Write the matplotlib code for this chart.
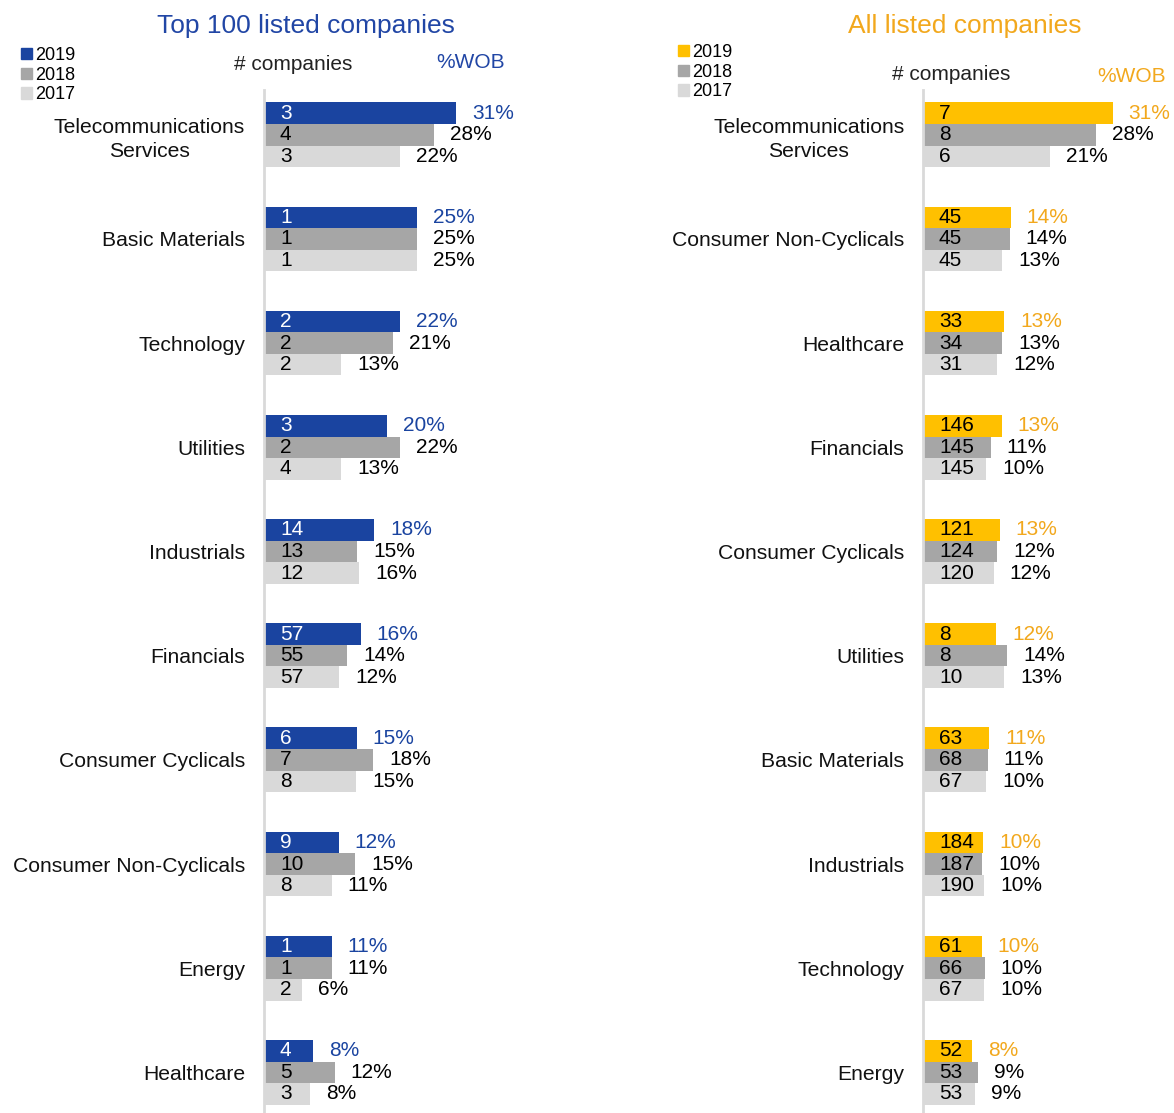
import matplotlib.pyplot as plt
from matplotlib.patches import Patch

plt.rcParams['font.family'] = ['Liberation Sans', 'DejaVu Sans']

# Top 100 listed companies
top_sectors = ['Telecommunications\nServices', 'Basic Materials', 'Technology', 'Utilities',
               'Industrials', 'Financials', 'Consumer Cyclicals', 'Consumer Non-Cyclicals',
               'Energy', 'Healthcare']
top_n_2019 = [3, 1, 2, 3, 14, 57, 6, 9, 1, 4]
top_n_2018 = [4, 1, 2, 2, 13, 55, 7, 10, 1, 5]
top_n_2017 = [3, 1, 2, 4, 12, 57, 8, 8, 2, 3]
top_wob_2019 = [31.4, 25.0, 22.2, 20.1, 18.0, 15.8, 15.2, 12.2, 11.1, 8.1]
top_wob_2018 = [27.9, 25.0, 21.1, 22.2, 15.3, 13.6, 17.9, 14.9, 11.1, 11.6]
top_wob_2017 = [22.2, 25.0, 12.6, 12.6, 15.6, 12.3, 15.1, 11.1, 6.2, 7.6]

# All listed companies
all_sectors = ['Telecommunications\nServices', 'Consumer Non-Cyclicals', 'Healthcare', 'Financials',
               'Consumer Cyclicals', 'Utilities', 'Basic Materials', 'Industrials',
               'Technology', 'Energy']
all_n_2019 = [7, 45, 33, 146, 121, 8, 63, 184, 61, 52]
all_n_2018 = [8, 45, 34, 145, 124, 8, 68, 187, 66, 53]
all_n_2017 = [6, 45, 31, 145, 120, 10, 67, 190, 67, 53]
all_wob_2019 = [31.1, 14.4, 13.3, 12.9, 12.6, 12.0, 10.9, 9.9, 9.6, 8.1]
all_wob_2018 = [28.4, 14.2, 13.0, 11.1, 12.2, 13.8, 10.6, 9.7, 10.1, 9.0]
all_wob_2017 = [20.9, 13.0, 12.2, 10.4, 11.6, 13.3, 10.4, 10.0, 10.0, 8.6]

years = ['2019', '2018', '2017']
blue = '#1A44A0'
yellow = '#FFC000'
yellow_txt = '#F2A81D'
grey18 = '#A6A6A6'
grey17 = '#D9D9D9'

W, H = 1174, 1113
fig = plt.figure(figsize=(W / 100, H / 100), dpi=100)

def panel(left, xmax, width_px, sectors, counts, wobs, c19, txt19, cnt19_color):
    ax = fig.add_axes([left / W, 0, width_px / W, 1023 / H])
    bh = 0.207
    offs = [-bh, 0, bh]
    colors = [c19, grey18, grey17]
    pct_colors = [txt19, 'black', 'black']
    cnt_colors = [cnt19_color, 'black', 'black']
    for k in range(3):
        ys = [i + offs[k] for i in range(len(sectors))]
        ax.barh(ys, wobs[k], height=bh, color=colors[k])
        for y, v, n in zip(ys, wobs[k], counts[k]):
            ax.annotate(str(n), xy=(0, y), xytext=(11.5, 0), textcoords='offset points',
                        va='center', ha='left', fontsize=15, color=cnt_colors[k])
            ax.annotate('%.0f%%' % v, xy=(v, y), xytext=(11.5, 0), textcoords='offset points',
                        va='center', ha='left', fontsize=15, color=pct_colors[k],
                        annotation_clip=False)
    ax.set_ylim(9.39, -0.43)
    ax.set_xlim(0, xmax)
    ax.set_yticks(range(len(sectors)))
    ax.set_yticklabels(sectors, fontsize=15.2, color='#111111', multialignment='center',
                       linespacing=1.35)
    ax.tick_params(axis='y', length=0, pad=13.5)
    ax.set_xticks([])
    for s in ['top', 'right', 'bottom']:
        ax.spines[s].set_visible(False)
    ax.spines['left'].set_color('#D9D9D9')
    ax.spines['left'].set_linewidth(2)
    return ax

panel(264, 35, 35 * 6.11, top_sectors,
      [top_n_2019, top_n_2018, top_n_2017],
      [top_wob_2019, top_wob_2018, top_wob_2017], blue, blue, 'white')
panel(923, 40, 40 * 6.1, all_sectors,
      [all_n_2019, all_n_2018, all_n_2017],
      [all_wob_2019, all_wob_2018, all_wob_2017], yellow, yellow_txt, 'black')

# titles and headers
fig.text(306 / W, 1 - 26 / H, 'Top 100 listed companies', color='#2146A5', fontsize=19,
         ha='center', va='center')
fig.text(965 / W, 1 - 26 / H, 'All listed companies', color=yellow_txt, fontsize=19,
         ha='center', va='center')
fig.text(293 / W, 1 - 65 / H, '# companies', fontsize=15, ha='center', va='center', color='#222222')
fig.text(471 / W, 1 - 63 / H, '%WOB', fontsize=15, ha='center', va='center', color='#2146A5')
fig.text(951 / W, 1 - 75 / H, '# companies', fontsize=15, ha='center', va='center', color='#222222')
fig.text(1132 / W, 1 - 77 / H, '%WOB', fontsize=15, ha='center', va='center', color=yellow_txt)

def legend(x, y, c19):
    handles = [Patch(color=c) for c in [c19, grey18, grey17]]
    fig.legend(handles, years, loc='upper left', bbox_to_anchor=(x / W, 1 - y / H),
               frameon=False, fontsize=13, handlelength=0.6, handleheight=0.6,
               handletextpad=0.2, labelspacing=0.15, borderpad=0, borderaxespad=0)

legend(21, 47, blue)
legend(678, 44, yellow)

fig.savefig('out.png', dpi=100)
